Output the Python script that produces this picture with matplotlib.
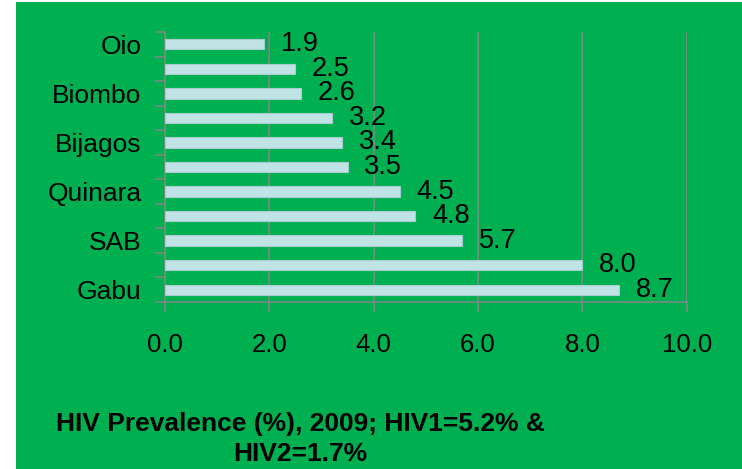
import numpy as np
import matplotlib.pyplot as plt
from matplotlib.patches import Rectangle

plt.rcParams['font.family'] = ['Liberation Sans', 'DejaVu Sans']

# regions top to bottom (only every other name is shown in the original)
regions = ["Oio", "", "Biombo", "", "Bijagos", "", "Quinara", "", "SAB", "", "Gabu"]
prevalence = [1.9, 2.5, 2.6, 3.2, 3.4, 3.5, 4.5, 4.8, 5.7, 8.0, 8.7]
xticks = [0, 2, 4, 6, 8, 10]
title = "HIV Prevalence (%), 2009; HIV1=5.2% &\nHIV2=1.7%"

green = "#00B050"
grey = "#868686"

fig = plt.figure(figsize=(7.42, 4.69), dpi=100, facecolor="white")
fig.patches.append(Rectangle((16/742, 0), 1 - 16/742, 1 - 2/469,
                             transform=fig.transFigure, facecolor=green,
                             edgecolor="none", zorder=-10))

ax = fig.add_axes([165/742, 1 - 302/469, (686.7 - 165)/742, (302 - 32)/469])
ax.set_facecolor(green)

y = np.arange(len(regions))
ax.barh(y, prevalence, height=0.42, color="#C0E4E6", edgecolor="#A8CDD0",
        linewidth=0.8, zorder=3)
for yi, v in zip(y, prevalence):
    ax.annotate(f"{v:.1f}", (v, yi), xytext=(12, 0), textcoords="offset points",
                va="center", ha="left", fontsize=19.5, zorder=4)

ax.set_xlim(0, 10)
ax.set_ylim(len(regions) - 0.5, -0.5)
ax.set_xticks(xticks)
ax.set_xticklabels([f"{t:.1f}" for t in xticks], fontsize=18.5)
ax.set_yticks(y)
ax.set_yticklabels(regions, fontsize=19)
ax.set_yticks(np.arange(len(regions) + 1) - 0.5, minor=True)
ax.tick_params(axis="y", which="major", length=0, pad=17)
ax.tick_params(axis="y", which="minor", length=7, width=1.1, color=grey)
ax.tick_params(axis="x", length=7, width=1.1, color=grey, pad=15)

ax.grid(axis="x", color=grey, linewidth=1.1, zorder=1)
for s in ["top", "right"]:
    ax.spines[s].set_visible(False)
for s in ["left", "bottom"]:
    ax.spines[s].set_color(grey)
    ax.spines[s].set_linewidth(1.1)

fig.text(300/742, 1 - 439/469, title, ha="center", va="center",
         fontsize=19, fontweight="bold", linespacing=1.35)

fig.savefig("out.png", dpi=100, facecolor="white")
